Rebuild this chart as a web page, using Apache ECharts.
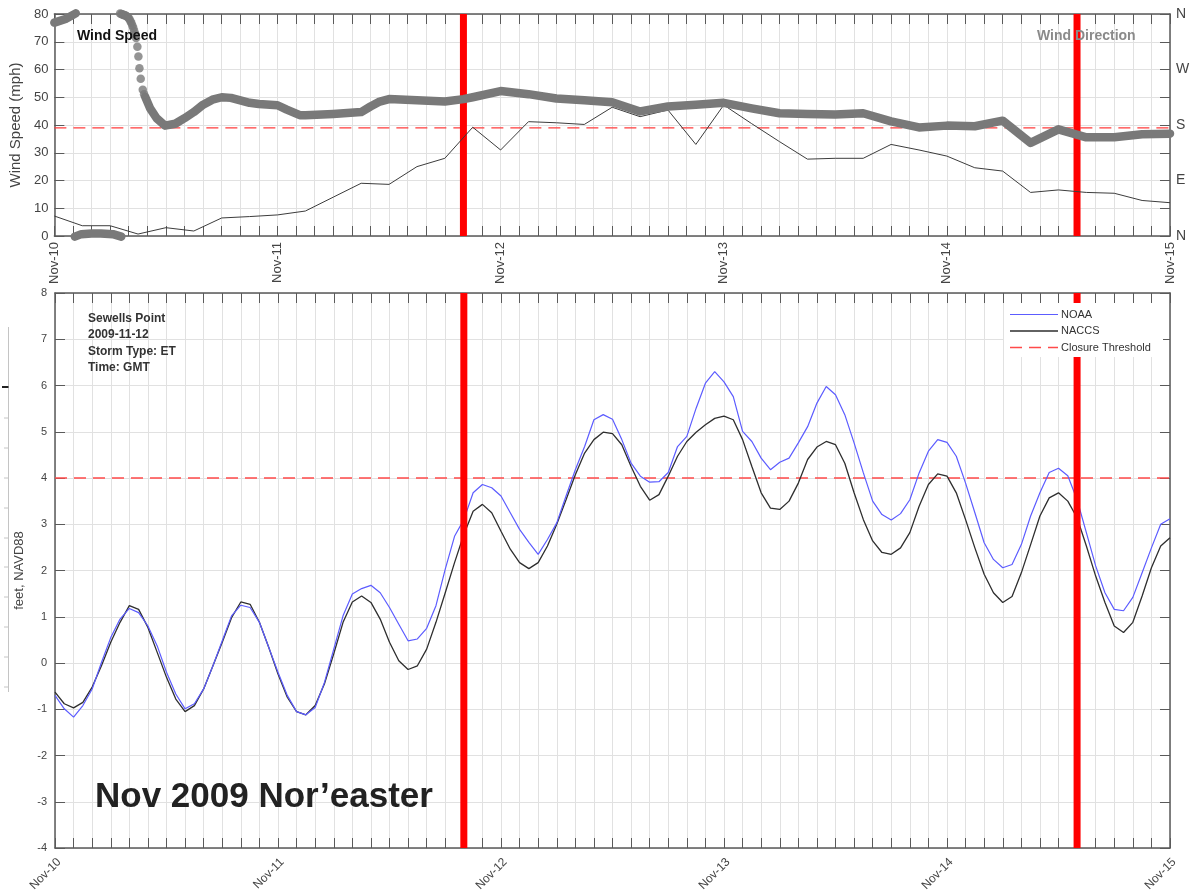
<!DOCTYPE html>
<html>
<head>
<meta charset="utf-8">
<title>Sewells Point – Nov 2009 Nor'easter</title>
<script src="https://cdn.jsdelivr.net/npm/echarts@6/dist/echarts.min.js"></script>
<style>
  html, body { margin: 0; padding: 0; background: #fff; }
  #chart { width: 1193px; height: 894px; }
</style>
</head>
<body>
<div id="chart"></div>
<script>
// ---- time axis: hours since Nov-10 00:00 GMT ----
const dayLabels = ['Nov-10', 'Nov-11', 'Nov-12', 'Nov-13', 'Nov-14', 'Nov-15'];

// ---- wind speed (mph), every 3 hours from Nov-10 00:00 ----
const windSpeedMph = [
  7.2, 3.7, 3.7, 0.7, 3.0, 1.8, 6.5, 7.0,
  7.6, 9.0, 14.0, 19.0, 18.6, 25.0, 28.0, 39.2,
  31.0, 41.2, 40.8, 40.2, 46.4, 43.0, 45.4, 33.0,
  47.2, 40.5, 34.0, 27.7, 28.0, 28.0, 33.0, 31.0,
  28.8, 24.6, 23.4, 15.7, 16.6, 15.7, 15.4, 12.8,
  12.0
];
const windSpeedStepHours = 3;

// ---- wind direction (degrees, 0 = N, 90 = E, 180 = S, 270 = W), [hour, deg] ----
// continuous stretches, split where the heading wraps through north
const windDirSegments = [
  [[0, 346], [1.2, 352], [2.3, 361]],
  [[2.2, -1], [2.9, 3], [4, 4], [5, 4], [6.3, 3], [7.2, -1]],
  [[9.76, 226], [10.3, 207], [11, 191], [11.9, 179], [12, 177], [13, 182], [14, 191],
   [15, 201], [16, 213], [17, 221], [18, 225], [19, 224], [20, 220], [21, 216],
   [22, 214], [24, 212], [25, 205], [26.4, 196], [27, 196], [30, 198], [33, 201],
   [34, 210], [35, 218], [36, 222], [39, 220], [42, 218], [44, 222], [45, 225],
   [48, 235], [51, 230], [54, 223], [57, 220], [60, 217], [63, 202], [66, 210],
   [69, 213], [72, 216], [75, 207], [78, 199], [81, 198], [84, 197], [87, 199],
   [90, 186], [93, 176], [96, 179], [99, 178], [102, 187], [105, 151], [108, 173],
   [111, 160], [114, 160], [117, 165], [120, 166]]
];
// individual samples while the heading swings quickly from N back to SW
const windDirSamples = [
  [7.07, 361], [7.2, 360], [7.3, 359], [7.4, 359], [7.5, 358], [7.6, 358],
  [7.7, 357], [7.8, 356], [7.9, 355], [8.0, 353], [8.1, 351], [8.2, 348],
  [8.3, 345], [8.4, 341], [8.5, 337], [8.6, 332], [8.7, 327], [8.79, 321],
  [8.93, 307], [9.04, 291], [9.15, 272], [9.29, 255], [9.51, 237], [9.65, 230]
];
const compassLabels = { 0: 'N', 90: 'E', 180: 'S', 270: 'W', 360: 'N' };

// ---- water level (feet, NAVD88), hourly from Nov-10 00:00 ----
const noaaFt = [
  -0.70, -0.99, -1.17, -0.92, -0.56, 0.01, 0.55, 0.95, 1.18, 1.09, 0.80, 0.37,
  -0.20, -0.67, -0.99, -0.88, -0.56, -0.06, 0.48, 1.02, 1.25, 1.20, 0.88, 0.34,
  -0.20, -0.70, -1.05, -1.12, -0.96, -0.42, 0.30, 1.02, 1.49, 1.61, 1.68, 1.52,
  1.20, 0.84, 0.48, 0.52, 0.75, 1.24, 2.03, 2.74, 3.10, 3.68, 3.86, 3.79,
  3.61, 3.25, 2.89, 2.61, 2.35, 2.67, 3.03, 3.61, 4.18, 4.68, 5.26, 5.37,
  5.27, 4.83, 4.32, 4.04, 3.91, 3.92, 4.12, 4.68, 4.90, 5.51, 6.05, 6.30,
  6.08, 5.76, 5.01, 4.79, 4.43, 4.18, 4.34, 4.43, 4.76, 5.11, 5.62, 5.98,
  5.80, 5.37, 4.76, 4.11, 3.50, 3.21, 3.09, 3.23, 3.53, 4.11, 4.58, 4.83,
  4.77, 4.47, 3.89, 3.25, 2.60, 2.24, 2.06, 2.13, 2.56, 3.18, 3.68, 4.12,
  4.21, 4.05, 3.53, 2.82, 2.10, 1.52, 1.16, 1.13, 1.42, 1.95, 2.49, 3.00,
  3.12
];
const naccsFt = [
  -0.63, -0.88, -0.97, -0.85, -0.52, -0.06, 0.45, 0.88, 1.24, 1.16, 0.77, 0.23,
  -0.31, -0.78, -1.05, -0.92, -0.56, -0.06, 0.45, 0.98, 1.32, 1.27, 0.88, 0.34,
  -0.24, -0.74, -1.05, -1.12, -0.92, -0.45, 0.20, 0.88, 1.32, 1.45, 1.31, 0.95,
  0.45, 0.05, -0.14, -0.06, 0.30, 0.88, 1.52, 2.17, 2.78, 3.28, 3.43, 3.25,
  2.85, 2.46, 2.17, 2.04, 2.17, 2.53, 3.00, 3.53, 4.07, 4.54, 4.83, 4.99,
  4.96, 4.72, 4.25, 3.82, 3.52, 3.64, 4.04, 4.47, 4.79, 4.99, 5.15, 5.29,
  5.34, 5.26, 4.83, 4.25, 3.68, 3.35, 3.32, 3.50, 3.89, 4.40, 4.67, 4.79,
  4.72, 4.32, 3.68, 3.10, 2.64, 2.39, 2.35, 2.49, 2.82, 3.39, 3.86, 4.09,
  4.04, 3.68, 3.10, 2.49, 1.92, 1.52, 1.31, 1.44, 1.95, 2.56, 3.18, 3.57,
  3.68, 3.50, 3.14, 2.53, 1.88, 1.31, 0.80, 0.66, 0.88, 1.45, 2.06, 2.53,
  2.71
];

// ---- thresholds and gate closure times ----
const windThresholdMph = 39;
const closureThresholdFt = 4;
const closureHours = [44, 110];
const stationInfo = ['Sewells Point', '2009-11-12', 'Storm Type: ET', 'Time: GMT'];
const stormTitle = 'Nov 2009 Nor\u2019easter';
const legendNames = ['NOAA', 'NACCS', 'Closure Threshold'];

// ---- axis ranges ----
const hourRange = [0, 120];
const speedRange = [0, 80];
const dirRange = [0, 360];
const tideRange = [-4, 8];

// ---- styling ----
const FONT = '"Liberation Sans", Arial, Helvetica, sans-serif';
const AXIS = '#5a5a5a';
const GRIDC = '#e1e1e1';
const LABEL = '#444';
const THRESH_DASH = [12, 7];
const lineStyles = {
  'NOAA': { color: '#5c5cff', width: 1.2, type: 'solid' },
  'NACCS': { color: '#2e2e2e', width: 1.3, type: 'solid' },
  'Closure Threshold': { color: '#ff4a4a', width: 1.3, type: THRESH_DASH }
};

function timeAxis(gridIndex, position, labels) {
  return {
    gridIndex, type: 'value', position,
    min: hourRange[0], max: hourRange[1], interval: 2,
    axisLine: { show: true, onZero: false, lineStyle: { color: AXIS, width: 1.5 } },
    axisTick: { show: true, inside: true, length: 10, lineStyle: { color: AXIS, width: 1 } },
    axisLabel: labels ? Object.assign({
      color: LABEL, fontFamily: FONT, showMinLabel: true, showMaxLabel: true,
      formatter: v => (v % 24 === 0 ? dayLabels[v / 24] : '')
    }, labels) : { show: false },
    splitLine: { show: !!labels, lineStyle: { color: GRIDC, width: 1 } }
  };
}

const chart = echarts.init(document.getElementById('chart'), null, { renderer: 'canvas' });

const series = [];

// top panel: wind
series.push({
  type: 'line', xAxisIndex: 0, yAxisIndex: 0, silent: true, symbol: 'none',
  data: [[hourRange[0], windThresholdMph], [hourRange[1], windThresholdMph]],
  lineStyle: { color: '#ff3d3d', width: 1.3, type: THRESH_DASH }, z: 2
});
closureHours.forEach(h => series.push({
  type: 'line', xAxisIndex: 0, yAxisIndex: 0, silent: true, symbol: 'none',
  data: [[h, speedRange[0]], [h, speedRange[1]]],
  lineStyle: { color: '#ff0000', width: 7, cap: 'butt' }, z: 3
}));
series.push({
  name: 'Wind Speed', type: 'line', xAxisIndex: 0, yAxisIndex: 0, symbol: 'none',
  data: windSpeedMph.map((v, i) => [i * windSpeedStepHours, v]),
  lineStyle: { color: '#3c3c3c', width: 1 }, z: 4
});
windDirSegments.forEach(seg => series.push({
  name: 'Wind Direction', type: 'line', xAxisIndex: 0, yAxisIndex: 1, symbol: 'none',
  clip: false, data: seg,
  lineStyle: { color: '#797979', width: 8.5, cap: 'round', join: 'round' }, z: 5
}));
series.push({
  name: 'Wind Direction', type: 'scatter', xAxisIndex: 0, yAxisIndex: 1,
  clip: false, data: windDirSamples, symbol: 'circle', symbolSize: 8.5,
  itemStyle: { color: '#797979' }, z: 5
});

// bottom panel: water level
series.push({
  name: 'Closure Threshold', type: 'line', xAxisIndex: 2, yAxisIndex: 2, symbol: 'none',
  data: [[hourRange[0], closureThresholdFt], [hourRange[1], closureThresholdFt]],
  lineStyle: lineStyles['Closure Threshold'], z: 2
});
series.push({
  name: 'NACCS', type: 'line', xAxisIndex: 2, yAxisIndex: 2, symbol: 'none',
  data: naccsFt.map((v, i) => [i, v]),
  lineStyle: lineStyles['NACCS'], z: 3
});
series.push({
  name: 'NOAA', type: 'line', xAxisIndex: 2, yAxisIndex: 2, symbol: 'none',
  data: noaaFt.map((v, i) => [i, v]),
  lineStyle: lineStyles['NOAA'], z: 4
});
closureHours.forEach(h => series.push({
  type: 'line', xAxisIndex: 2, yAxisIndex: 2, silent: true, symbol: 'none',
  data: [[h, tideRange[0]], [h, tideRange[1]]],
  lineStyle: { color: '#ff0000', width: 7, cap: 'butt' }, z: 6
}));

// legend key for the water-level panel, on an opaque white box
const legendKey = [{
  type: 'rect', z: 99, shape: { x: 1004, y: 303, width: 159, height: 54 },
  style: { fill: '#ffffff', stroke: null }
}];
legendNames.forEach((name, i) => {
  const y = 314.5 + i * 16.5;
  const ls = lineStyles[name];
  legendKey.push({
    type: 'line', z: 100, shape: { x1: 1010, y1: y, x2: 1058, y2: y },
    style: { stroke: ls.color, lineWidth: ls.width, lineDash: Array.isArray(ls.type) ? ls.type : null }
  });
  legendKey.push({
    type: 'text', z: 100, x: 1061, y: y,
    style: { text: name, font: '11px ' + FONT, fill: '#333', verticalAlign: 'middle' }
  });
});

// stray axis fragment on the far left margin
const fragmentTicks = [418, 448, 478, 508, 538, 567, 597, 627, 657, 687];
const fragment = [
  { type: 'line', shape: { x1: 8.5, y1: 327, x2: 8.5, y2: 692 }, style: { stroke: '#c4c4c4', lineWidth: 1 } },
  { type: 'line', shape: { x1: 2, y1: 387, x2: 8.5, y2: 387 }, style: { stroke: '#222', lineWidth: 2 } }
].concat(fragmentTicks.map(y => ({
  type: 'line', shape: { x1: 4, y1: y, x2: 8.5, y2: y }, style: { stroke: '#c4c4c4', lineWidth: 1 }
})));

const option = {
  animation: false,
  backgroundColor: '#ffffff',
  textStyle: { fontFamily: FONT },
  grid: [
    { left: 54, top: 14, width: 1116, height: 222, containLabel: false },
    { left: 55, top: 293, width: 1115, height: 557, containLabel: false }
  ],
  xAxis: [
    timeAxis(0, 'bottom', { rotate: 90, margin: 6, fontSize: 13 }),
    timeAxis(0, 'top', null),
    timeAxis(1, 'bottom', { rotate: 45, margin: 8, fontSize: 12, verticalAlign: 'top' }),
    timeAxis(1, 'top', null)
  ],
  yAxis: [
    {
      gridIndex: 0, type: 'value', position: 'left',
      min: speedRange[0], max: speedRange[1], interval: 10,
      name: 'Wind Speed (mph)', nameLocation: 'middle', nameGap: 25,
      nameTextStyle: { fontSize: 15, color: LABEL, fontFamily: FONT },
      axisLine: { show: true, onZero: false, lineStyle: { color: AXIS, width: 1.5 } },
      axisTick: { show: true, inside: true, length: 10, lineStyle: { color: AXIS } },
      axisLabel: { fontSize: 13, color: LABEL, margin: 6, fontFamily: FONT },
      splitLine: { show: true, lineStyle: { color: GRIDC, width: 1 } }
    },
    {
      gridIndex: 0, type: 'value', position: 'right',
      min: dirRange[0], max: dirRange[1], interval: 45,
      axisLine: { show: true, onZero: false, lineStyle: { color: AXIS, width: 1.5 } },
      axisTick: { show: true, inside: true, length: 10, lineStyle: { color: AXIS } },
      axisLabel: { fontSize: 14, color: LABEL, margin: 6, fontFamily: FONT,
        formatter: v => compassLabels[v] || '' },
      splitLine: { show: false }
    },
    {
      gridIndex: 1, type: 'value', position: 'left',
      min: tideRange[0], max: tideRange[1], interval: 1,
      name: 'feet, NAVD88', nameLocation: 'middle', nameGap: 18,
      nameTextStyle: { fontSize: 13, color: LABEL, fontFamily: FONT },
      axisLine: { show: true, onZero: false, lineStyle: { color: AXIS, width: 1.5 } },
      axisTick: { show: true, inside: true, length: 10, lineStyle: { color: AXIS } },
      axisLabel: { fontSize: 11, color: LABEL, margin: 8, fontFamily: FONT },
      splitLine: { show: true, lineStyle: { color: GRIDC, width: 1 } }
    },
    {
      gridIndex: 1, type: 'value', position: 'right',
      min: tideRange[0], max: tideRange[1], interval: 1,
      axisLine: { show: true, onZero: false, lineStyle: { color: AXIS, width: 1.5 } },
      axisTick: { show: true, inside: true, length: 10, lineStyle: { color: AXIS } },
      axisLabel: { show: false },
      splitLine: { show: false }
    }
  ],
  series,
  graphic: [
    { type: 'text', left: 77, top: 29, z: 100,
      style: { text: 'Wind Speed', font: 'bold 14px ' + FONT, fill: '#111' } },
    { type: 'text', left: 1037, top: 29, z: 100,
      style: { text: 'Wind Direction', font: 'bold 14px ' + FONT, fill: '#8a8a8a' } },
    { type: 'text', left: 88, top: 310, z: 100,
      style: { text: stationInfo.join('\n'), font: 'bold 12px ' + FONT, lineHeight: 16.5, fill: '#333' } },
    { type: 'text', left: 95, top: 780, z: 100,
      style: { text: stormTitle, font: 'bold 35px ' + FONT, fill: '#222' } }
  ].concat(legendKey, fragment)
};

chart.setOption(option);
</script>
</body>
</html>
